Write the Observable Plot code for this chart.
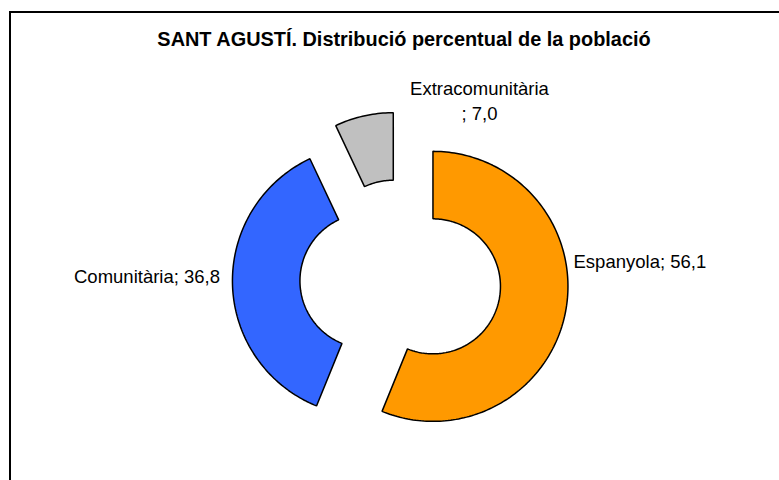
<!DOCTYPE html>
<html>
<head>
<meta charset="utf-8">
<script src="https://cdn.jsdelivr.net/npm/d3@7"></script>
<script src="https://cdn.jsdelivr.net/npm/@observablehq/plot@0.6"></script>
<style>
  html, body { margin: 0; padding: 0; background: #fff; }
  #wrap { position: relative; width: 779px; height: 480px; overflow: hidden; }
  #frame { position: absolute; left: 9px; top: 11px; width: 800px; height: 500px; border: 2px solid #000; box-sizing: border-box; pointer-events: none; }
  #chart { position: absolute; left: 0; top: 0; }
</style>
</head>
<body>
<div id="wrap"><div id="chart"></div><div id="frame"></div></div>
<script>
// ---- data ----
const title = "SANT AGUSTÍ. Distribució percentual de la població";
const categories = ["Espanyola", "Comunitària", "Extracomunitària"];
const values = [56.1, 36.8, 7.0];
const valueLabels = ["56,1", "36,8", "7,0"];
const colors = ["#FF9900", "#3366FF", "#C0C0C0"];

// ---- layout (pixels / units of outer radius) ----
const W = 779, H = 480;
const cx = 400, cy = 279.5, Rpx = 135;   // pie centre and outer radius in px
const innerRatio = 0.5;                   // doughnut hole
const explode = 0.245;                    // slice offset (in R)
// label placement: angle (deg, clockwise from top), distance (in R), anchor
const labelLayout = [
  {angle: 85.9, dist: 1.285, anchor: "start", text: c => `${c}; `},
  {angle: 268.9, dist: 1.337, anchor: "end", text: c => `${c}; `},
  {angle: 26.35, dist: 1.3185, anchor: "middle", text: c => `${c}\n; `}
];

const rows = categories.map((c, i) => ({key: c, value: values[i], label: valueLabels[i]}));
const arcs = d3.pie().sort(null).value(d => d.value)(rows);

// slice outlines from pie angles
const pts = [];
arcs.forEach(a => {
  const mid = (a.startAngle + a.endAngle) / 2;
  const ox = explode * Math.sin(mid), oy = explode * Math.cos(mid);
  const n = Math.max(8, Math.ceil((a.endAngle - a.startAngle) / 0.02));
  for (let k = 0; k <= n; k++) {
    const t = a.startAngle + (a.endAngle - a.startAngle) * k / n;
    pts.push({key: a.data.key, x: ox + Math.sin(t), y: oy + Math.cos(t)});
  }
  for (let k = n; k >= 0; k--) {
    const t = a.startAngle + (a.endAngle - a.startAngle) * k / n;
    pts.push({key: a.data.key, x: ox + innerRatio * Math.sin(t), y: oy + innerRatio * Math.cos(t)});
  }
});

const labelRows = rows.map((r, i) => {
  const L = labelLayout[i], th = L.angle * Math.PI / 180;
  return {text: L.text(r.key) + r.label, x: L.dist * Math.sin(th), y: L.dist * Math.cos(th), anchor: L.anchor};
});

const font = "Arial, 'Liberation Sans', sans-serif";
const chart = Plot.plot({
  width: W, height: H,
  margin: 0,
  style: {background: "transparent", fontFamily: font},
  x: {domain: [-cx / Rpx, (W - cx) / Rpx], axis: null},
  y: {domain: [(cy - H) / Rpx, cy / Rpx], axis: null},
  color: {domain: categories, range: colors},
  marks: [
    Plot.line(pts, {x: "x", y: "y", z: "key", fill: "key", stroke: "#000", strokeWidth: 1.5, curve: "linear-closed", strokeLinejoin: "miter"}),
    ...["start", "end", "middle"].map(an =>
      Plot.text(labelRows.filter(d => d.anchor === an), {
        x: "x", y: "y", text: "text", textAnchor: an, lineAnchor: "bottom",
        lineHeight: 1.36, fontSize: 18.5, fill: "#000", fontFamily: font
      })),
    Plot.text([title], {frameAnchor: "top", dx: 14, dy: 31, fontSize: 19.9, fontWeight: "bold", fill: "#000", fontFamily: font})
  ]
});
document.getElementById("chart").appendChild(chart);
</script>
</body>
</html>
